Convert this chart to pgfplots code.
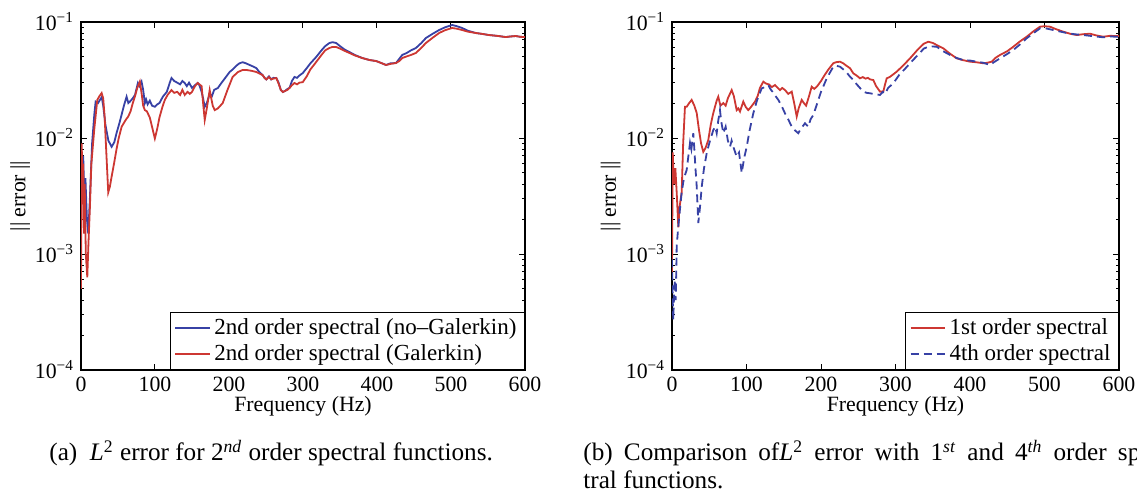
\documentclass[border=0pt]{standalone}
\usepackage{fontspec}
\setmainfont{Liberation Serif}
\usepackage{pgfplots}
\pgfplotsset{compat=1.18}
\pgfkeys{/pgf/number format/assume math mode=true}
\definecolor{cblue}{RGB}{55,65,165}
\definecolor{cred}{RGB}{205,55,50}
\pgfplotsset{
 myax/.style={
  scale only axis, width=222pt, height=174pt,
  xmin=0, xmax=600, ymin=1e-4, ymax=1e-1,
  xtick={0,100,...,600},
  ytick={1e-4,1e-3,1e-2,1e-1},
  yticklabels={10\textsuperscript{−4},10\textsuperscript{−3},10\textsuperscript{−2},10\textsuperscript{−1}},
  minor ytick={2e-4,3e-4,4e-4,5e-4,6e-4,7e-4,8e-4,9e-4,2e-3,3e-3,4e-3,5e-3,6e-3,7e-3,8e-3,9e-3,2e-2,3e-2,4e-2,5e-2,6e-2,7e-2,8e-2,9e-2},
  tick align=inside,
  major tick length=3pt, minor tick length=1.6pt,
  tick style={black, line width=0.5pt},
  axis line style={black, line width=0.8pt},
  every tick label/.append style={font=\fontsize{10.9}{12}\selectfont},
  xticklabel style={inner ysep=2pt, yshift=-1.5pt},
  every axis label/.append style={font=\fontsize{10.9}{12}\selectfont},
  xlabel={Frequency (Hz)},
  ylabel={\textbar\textbar\ error \textbar\textbar},
  xlabel style={at={(axis description cs:0.5,-0.103)}, anchor=center, inner sep=0pt},
  ylabel style={at={(axis description cs:-0.137,0.5)}, anchor=center},
  legend cell align=left,
  legend style={at={(1,0)}, anchor=south east, draw=black, line width=0.5pt,
    font=\fontsize{11.5}{13}\selectfont, fill=white, row sep=-0.5pt, inner xsep=2pt, inner ysep=1pt},
 }
}
\begin{document}
\begin{tikzpicture}
\useasboundingbox (0,0) rectangle (568.5pt,249pt);
\begin{semilogyaxis}[myax, at={(40.5pt,64pt)}, anchor=south west]
\addplot[cblue, line width=0.9pt] table {
0 0.0085
1.5 0.0035
3 0.0070
4.5 0.0030
6 0.0045
8 0.0020
9.8 0.0015
12 0.0030
15 0.0090
18 0.0160
19.8 0.0206
23 0.0200
25.6 0.0213
28 0.0225
30 0.0190
33 0.0130
37 0.0095
41.4 0.0084
45 0.0092
48 0.0110
52 0.0135
55 0.0160
58 0.0190
61.6 0.0227
64 0.0200
66.1 0.0206
70 0.0220
73 0.0235
76.9 0.0298
79 0.0280
81.8 0.0306
84 0.0260
86.3 0.0200
88 0.0215
90 0.0195
93 0.0210
96 0.0190
99.8 0.0186
103 0.0195
106 0.0200
110.6 0.0227
116 0.0250
120 0.0300
122.3 0.0329
126 0.0310
130 0.0300
134 0.0290
137 0.0310
140.2 0.0298
143 0.0280
146 0.0300
150 0.0270
154 0.0285
157.7 0.0298
160 0.0285
163 0.0250
165 0.0220
167.2 0.0186
170 0.0200
173.9 0.0240
177 0.0230
180 0.0260
185 0.0270
189.7 0.0298
195 0.0330
200.9 0.0371
205 0.0390
210 0.0420
214 0.0440
218.4 0.0450
223 0.0440
227.9 0.0426
232 0.0415
236.9 0.0401
241 0.0370
245.4 0.0349
248 0.0330
250.4 0.0320
254 0.0340
257 0.0320
260 0.0330
263.9 0.0329
267 0.0300
270 0.0260
272.8 0.0249
276 0.0255
279 0.0265
281.8 0.0270
285 0.0310
288.5 0.0336
292 0.0330
295 0.0345
299.7 0.0363
305 0.0400
310 0.0440
317.8 0.0499
325 0.0570
330 0.0620
335.7 0.0659
340 0.0670
344.8 0.0659
350 0.0620
356 0.0580
362.7 0.0551
370 0.0520
380.2 0.0489
390 0.0470
398.7 0.0461
405 0.0445
412.2 0.0426
418 0.0440
425.6 0.0443
430 0.0480
434.1 0.0520
440 0.0540
446 0.0570
452.6 0.0597
460 0.0660
466.1 0.0728
475 0.0790
484 0.0853
492 0.0900
501.5 0.0942
508 0.0920
515 0.0888
523 0.0840
533.5 0.0804
542 0.0790
551.4 0.0772
562 0.0760
573.9 0.0742
580 0.0750
587.4 0.0757
594 0.0745
600 0.0742
};
\addlegendentry{2nd order spectral (no–Galerkin)}
\addplot[cred, line width=0.9pt] table {
0 0.0005
1 0.0090
2 0.0030
3 0.0060
4 0.0015
5 0.0040
6.5 0.0010
8.5 0.00063
10 0.0012
12 0.0025
14 0.0060
18 0.0120
22 0.0213
25 0.0230
27.9 0.0244
30 0.0220
32 0.0150
34 0.0080
36.8 0.0034
39 0.0038
41 0.0045
45 0.0062
48 0.0080
51 0.0100
54.9 0.0125
58 0.0135
61 0.0145
63.8 0.0153
67 0.0170
70 0.0200
72.8 0.0227
76 0.0270
79.5 0.0306
82 0.0240
84 0.0190
86.3 0.0174
89 0.0170
93 0.0150
96 0.0125
99.8 0.0099
103 0.0120
106 0.0150
110 0.0185
113.3 0.0213
117 0.0235
122.3 0.0259
126 0.0245
130 0.0250
134 0.0235
137 0.0260
140.2 0.0235
144 0.0250
147 0.0240
150 0.0250
154 0.0280
157.7 0.0298
160 0.0290
163 0.0280
165 0.0200
167.2 0.0143
170 0.0180
173.9 0.0259
176 0.0220
178 0.0190
180.7 0.0174
185 0.0180
191.5 0.0200
198 0.0260
204.9 0.0336
212 0.0370
218 0.0385
223.4 0.0386
230 0.0380
236.9 0.0371
241 0.0360
245.4 0.0349
248 0.0330
250.4 0.0320
254 0.0335
257 0.0320
260 0.0325
263.9 0.0329
267 0.0295
270 0.0260
272.8 0.0249
276 0.0255
279 0.0260
281.8 0.0270
285 0.0285
288.5 0.0298
292 0.0290
295 0.0300
299.7 0.0303
305 0.0340
310 0.0390
317.8 0.0452
325 0.0520
330 0.0570
335.7 0.0597
340 0.0610
344.8 0.0609
350 0.0590
356 0.0565
362.7 0.0541
370 0.0515
380.2 0.0489
390 0.0470
398.7 0.0461
405 0.0445
412.2 0.0426
418 0.0435
425.6 0.0443
430 0.0460
434.1 0.0489
440 0.0505
446 0.0520
452.6 0.0541
460 0.0600
466.1 0.0659
475 0.0730
484 0.0804
492 0.0850
501.5 0.0888
508 0.0875
515 0.0853
523 0.0825
533.5 0.0804
542 0.0790
551.4 0.0772
562 0.0760
573.9 0.0742
580 0.0750
587.4 0.0757
594 0.0745
600 0.0742
};
\addlegendentry{2nd order spectral (Galerkin)}
\end{semilogyaxis}
\begin{semilogyaxis}[myax, at={(336pt,64pt)}, anchor=south west, width=223.5pt]
\addplot[cred, line width=0.9pt] table {
0 0.0007
1 0.0075
2 0.0050
3 0.0040
4.5 0.0055
6.3 0.0034
8.5 0.0017
10 0.0025
13 0.0034
15 0.0090
17.4 0.0186
19.7 0.0186
23 0.0200
26.4 0.0213
30 0.0190
33.2 0.0164
36 0.0120
39 0.0090
42 0.0076
45 0.0082
48.7 0.0096
52 0.0130
55 0.0160
57.7 0.0186
60 0.0210
62.1 0.0227
65 0.0190
68.9 0.0200
72 0.0190
75 0.0220
80.1 0.0259
83 0.0230
86.8 0.0174
89 0.0180
91.3 0.0169
95.7 0.0206
99 0.0185
102.4 0.0174
106 0.0185
111.4 0.0206
115 0.0230
118 0.0270
122.6 0.0306
126 0.0295
130 0.0290
134 0.0275
138.3 0.0286
142 0.0270
145 0.0259
148 0.0270
151.7 0.0259
156 0.0240
160.7 0.0251
164 0.0200
167.4 0.0153
170 0.0180
174.1 0.0213
177 0.0200
180 0.0190
184 0.0230
187.5 0.0277
191 0.0265
195 0.0280
200 0.0310
205 0.0350
210 0.0390
216.5 0.0441
220 0.0450
225.5 0.0455
230 0.0440
234 0.0420
238.9 0.0400
243.4 0.0361
248 0.0345
252.3 0.0327
256 0.0335
260 0.0325
263 0.0330
266 0.0320
270.2 0.0316
274 0.0280
279.2 0.0251
283.6 0.0251
286 0.0290
288.2 0.0327
292 0.0335
296 0.0350
301.6 0.0373
310 0.0420
319.5 0.0486
330 0.0580
338 0.0650
344 0.0676
350 0.0660
356 0.0630
364.2 0.0593
372 0.0540
382.1 0.0486
390 0.0470
400 0.0455
408 0.0450
417.9 0.0441
423 0.0445
429.1 0.0455
434 0.0490
440.3 0.0520
450 0.0560
458.1 0.0612
467 0.0680
476.1 0.0747
485 0.0830
494 0.0911
500 0.0920
507.4 0.0911
515 0.0870
525.2 0.0825
535 0.0790
543.2 0.0772
552 0.0785
561.1 0.0793
570 0.0765
579 0.0747
588 0.0760
596.9 0.0757
600 0.0757
};
\addlegendentry{1st order spectral}
\addplot[cblue, line width=0.9pt, dash pattern=on 4pt off 2.5pt] table {
0 0.0009
1 0.0004
1.7 0.00027
3 0.0005
4 0.0006
5 0.0004
6.3 0.00116
8 0.0016
10 0.0022
13 0.0034
16 0.0045
19.7 0.0053
22 0.0070
24.2 0.0091
26 0.0080
28.6 0.0110
30 0.0080
31.5 0.0055
33.2 0.0038
35.3 0.00185
37.5 0.0025
39.9 0.0038
43 0.0055
46.6 0.0074
50 0.0090
55.4 0.0117
58 0.0125
60 0.0110
62 0.0140
64.4 0.0174
66 0.0140
68.9 0.0110
72 0.0125
75 0.0095
77.9 0.0084
80 0.0095
82 0.0085
84 0.0078
86.8 0.0069
90 0.0075
93.6 0.0050
97 0.0068
100.3 0.0084
104 0.0115
109.1 0.0163
114 0.0210
120.4 0.0268
125 0.0275
129.3 0.0286
132 0.0265
135 0.0250
139 0.0230
142.7 0.0213
147 0.0190
151.7 0.0163
156 0.0145
160.7 0.0125
163 0.0120
166 0.0115
169.5 0.0110
173 0.0120
178.5 0.0134
183 0.0125
186 0.0145
189.7 0.0158
195 0.0200
200 0.0250
208 0.0330
216.5 0.0412
220 0.0420
225.5 0.0412
230 0.0390
234 0.0370
238.9 0.0338
243.4 0.0316
248 0.0290
252.3 0.0270
256.8 0.0251
261.3 0.0245
265.8 0.0243
270 0.0240
274 0.0238
279.2 0.0235
283 0.0250
286 0.0240
290 0.0270
297 0.0296
305 0.0350
312 0.0390
319.5 0.0441
330 0.0520
338 0.0590
344 0.0612
350 0.0615
355.3 0.0612
364 0.0560
373.2 0.0520
382 0.0490
391 0.0470
400 0.0465
409 0.0455
418 0.0445
426.8 0.0426
432 0.0450
440.3 0.0486
450 0.0530
458.1 0.0574
467 0.0640
476.1 0.0724
485 0.0800
494 0.0882
502 0.0880
511.8 0.0853
520 0.0830
529.8 0.0804
540 0.0785
552.1 0.0772
565 0.0755
579 0.0738
588 0.0750
596.9 0.0747
600 0.0747
};
\addlegendentry{4th order spectral}
\end{semilogyaxis}
\begin{scope}[font=\fontsize{12.6}{15}\selectfont]
\node[anchor=base west, inner sep=0pt] at (24.5pt,18.5pt) {(a)\ \ \textit{L}\textsuperscript{2} error for 2\textsuperscript{\textit{nd}} order spectral functions.};
\node[anchor=base west, inner sep=0pt] at (291.5pt,18.5pt) {\spaceskip=5.6pt (b) Comparison of\textit{L}\textsuperscript{2} error with 1\textsuperscript{\textit{st}} and 4\textsuperscript{\textit{th}} order spec-};
\node[anchor=base west, inner sep=0pt] at (291.5pt,4.5pt) {tral functions.};
\end{scope}
\end{tikzpicture}
\end{document}
